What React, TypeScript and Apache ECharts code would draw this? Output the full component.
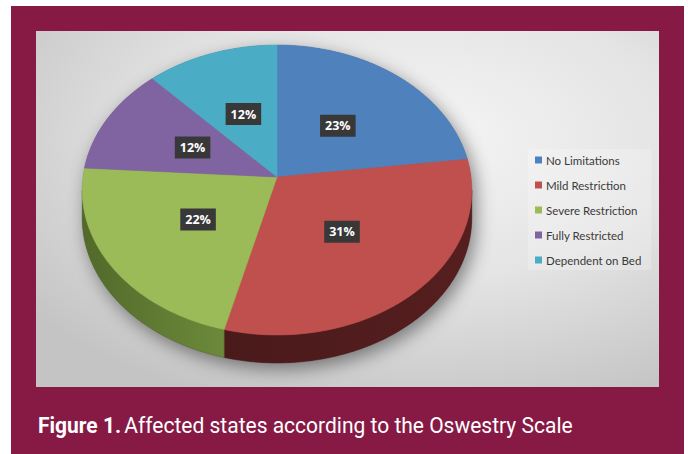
import React, { useEffect, useRef } from "react";
import * as echarts from "echarts";

const categories = ["No Limitations", "Mild Restriction", "Severe Restriction", "Fully Restricted", "Dependent on Bed"];
const values = [23, 31, 22, 12, 12];
const colors = ["#4F81BD", "#C0504D", "#9BBB59", "#8064A2", "#4BACC6"];
const sideColorsA = ["#2f4d74", "#4a1a1b", "#52692a", "#4a3a60", "#2a6878"];
const sideColorsB = ["#3a5d8a", "#561e1f", "#6c8a3a", "#5a4774", "#357d90"];
const caption = ["Figure 1.", "Affected states according to the Oswestry Scale"];

const CX = 277;
const CY = 177;
const A = 194;
const B = 143.8;
const E = 0.0897;
const DEPTH = 28;

function pt(theta: number, dy = 0, r = 1): number[] {
  const s = Math.sin(theta);
  const c = -Math.cos(theta);
  const d = 1 - E * r * c;
  return [CX + (A * r * s) / d, CY + (B * r * c) / d + dy];
}

function arc(a0: number, a1: number, dy = 0): number[][] {
  const n = Math.max(2, Math.ceil((a1 - a0) / (Math.PI / 180)));
  const out: number[][] = [];
  for (let k = 0; k <= n; k++) out.push(pt(a0 + ((a1 - a0) * k) / n, dy));
  return out;
}

const SIDE_LO = Math.acos(-E);
const SIDE_HI = 2 * Math.PI - SIDE_LO;

export default function App() {
  const ref = useRef<HTMLDivElement>(null);
  useEffect(() => {
    if (!ref.current) return;
    const chart = echarts.init(ref.current, null, { renderer: "svg" });
    const total = values.reduce((a, b) => a + b, 0);

    const makeRender = (i: number) => (params: any, api: any) => {
      const v = api.value(0);
      const before = values.slice(0, i).reduce((a, b) => a + b, 0);
      const a0 = (before / total) * Math.PI * 2;
      const a1 = ((before + v) / total) * Math.PI * 2;
      const children: any[] = [];
      if (i === 0) {
        const upper = arc(SIDE_LO - 2 * Math.PI + 2 * Math.PI, SIDE_LO).slice(0, 1);
        const back = arc(SIDE_HI - 2 * Math.PI, SIDE_LO);
        const lower = arc(SIDE_LO, SIDE_HI, DEPTH);
        children.push({
          type: "polygon",
          z2: -5,
          shape: { points: back.concat(lower).concat(upper.length ? [] : []) },
          style: {
            fill: "#666",
            shadowBlur: 18,
            shadowOffsetX: 4,
            shadowOffsetY: 6,
            shadowColor: "rgba(0,0,0,0.45)",
          },
        });
      }
      const lo = Math.max(a0, SIDE_LO);
      const hi = Math.min(a1, SIDE_HI);
      if (hi > lo) {
        const top = arc(lo, hi);
        const bot = arc(lo, hi, DEPTH).reverse();
        children.push({
          type: "polygon",
          z2: 1,
          shape: { points: top.concat(bot) },
          style: {
            fill: new echarts.graphic.LinearGradient(1, 0, 0, 0, [
              { offset: 0, color: sideColorsB[i] },
              { offset: 1, color: sideColorsA[i] },
            ]),
            stroke: sideColorsA[i],
            lineWidth: 0.5,
          },
        });
      }
      children.push({
        type: "polygon",
        z2: 2,
        shape: { points: [[CX, CY]].concat(arc(a0, a1)) },
        style: { fill: colors[i], stroke: colors[i], lineWidth: 0.6 },
      });
      const mid = (a0 + a1) / 2;
      const [lx, ly] = pt(mid, 0, 0.49);
      children.push({
        type: "text",
        z2: 100,
        x: lx,
        y: ly,
        style: {
          text: v + "%",
          fill: "#ffffff",
          fontFamily: "Open Sans",
          fontWeight: "bold",
          fontSize: 12.5,
          align: "center",
          verticalAlign: "middle",
          backgroundColor: "#383838",
          padding: [5, 5, 4, 5],
          boxShadowBlur: 4,
          boxShadowColor: "rgba(0,0,0,0.55)",
          boxShadowOffsetX: 2,
          boxShadowOffsetY: 2,
        },
      });
      return { type: "group", children };
    };

    const series = categories.map((name, i) => ({
      type: "custom",
      name,
      coordinateSystem: "none",
      itemStyle: { color: colors[i] },
      data: [{ name, value: values[i] }],
      renderItem: makeRender(i),
    }));

    chart.setOption({
      animation: false,
      graphic: [
        { type: "rect", z: -10, shape: { x: 0, y: 0, width: 688, height: 454 }, style: { fill: "#ffffff" } },
        { type: "rect", z: -9, shape: { x: 11, y: 6, width: 673, height: 448 }, style: { fill: "#861A44" } },
        {
          type: "rect",
          z: -8,
          shape: { x: 36, y: 31, width: 623, height: 356 },
          style: {
            fill: new echarts.graphic.RadialGradient(0.62, 0.3, 0.8, [
              { offset: 0, color: "#f5f5f5" },
              { offset: 0.5, color: "#e4e4e4" },
              { offset: 1, color: "#c4c4c4" },
            ]),
          },
        },
        {
          type: "text",
          z: 5,
          x: 38,
          y: 425,
          scaleX: 0.955,
          style: {
            text: "{b|" + caption[0] + "} {r|" + caption[1] + "}",
            fill: "#ffffff",
            verticalAlign: "middle",
            rich: {
              b: { fontFamily: "Roboto", fontWeight: "bold", fontSize: 22, fill: "#ffffff" },
              r: { fontFamily: "Roboto", fontSize: 22, fill: "#ffffff" },
            },
          },
        },
      ],
      legend: {
        data: categories,
        orient: "vertical",
        left: 528,
        top: 149,
        icon: "rect",
        itemWidth: 7,
        itemHeight: 7,
        itemGap: 11,
        padding: [4, 10, 3, 7],
        backgroundColor: "rgba(255,255,255,0.22)",
        selectedMode: false,
        textStyle: { fontFamily: "Lato", fontSize: 11.5, color: "#3a3a3a", lineHeight: 14, padding: [0, 0, 0, -1] },
      },
      series,
    });
    return () => chart.dispose();
  }, []);
  return <div ref={ref} style={{ position: "absolute", left: 0, top: 0, width: 688, height: 454 }} />;
}
